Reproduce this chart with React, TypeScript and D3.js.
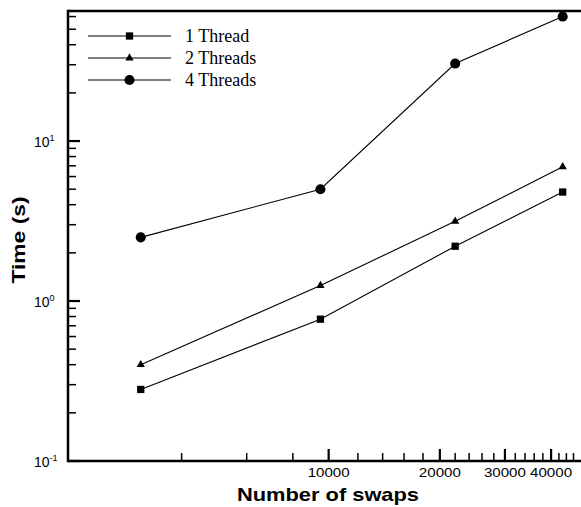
import React from 'react';
import * as d3 from 'd3';

// x values (number of swaps) shared by all series
const swaps = [3100, 9500, 22000, 43000];
const oneThread = [0.28, 0.77, 2.2, 4.8];
const twoThreads = [0.4, 1.25, 3.15, 6.9];
const fourThreads = [2.5, 5.0, 30.5, 60];

const seriesNames = ['1 Thread', '2 Threads', '4 Threads'];

const xMajorTicks = [10000, 20000, 30000, 40000];
const xMinorTicks = [4000, 6000, 8000, 12000, 14000, 16000, 18000, 22000, 24000, 26000, 28000,
    32000, 34000, 36000, 38000, 42000, 44000, 46000];
const yMajorTicks = [0.1, 1, 10];
const yMajorExp = ['-1', '0', '1'];
const yMinorTicks = [0.2, 0.3, 0.4, 0.5, 0.6, 0.7, 0.8, 0.9, 2, 3, 4, 5, 6, 7, 8, 9, 20, 30, 40, 50, 60];

const width = 581;
const height = 507;
const left = 68;
const top = 11;
const bottom = 461;
const right = 581;

export default function App() {
    const x = d3.scaleLog().domain([1970, 48200]).range([left, right]);
    const y = d3.scaleLog().domain([0.1, 65]).range([bottom, top]);

    const line = d3.line<[number, number]>()
        .x(d => x(d[0]))
        .y(d => y(d[1]));

    const series = [oneThread, twoThreads, fourThreads];
    const symbols = [
        d3.symbol().type(d3.symbolSquare).size(53)(),
        d3.symbol().type(d3.symbolTriangle).size(30)(),
        d3.symbol().type(d3.symbolCircle).size(80)(),
    ];

    const legendY = [36, 58, 80];

    return (
        <svg width={width} height={height} style={{position: 'absolute', left: 0, top: 0}}>
            {/* data */}
            {series.map((vals, i) => {
                const pts = swaps.map((s, j) => [s, vals[j]] as [number, number]);
                return (
                    <g key={i}>
                        <path d={line(pts) || ''} fill="none" stroke="#000" strokeWidth={1.1} />
                        {pts.map((p, j) => (
                            <path key={j} d={symbols[i] || ''} transform={`translate(${x(p[0])},${y(p[1])})`} fill="#000" />
                        ))}
                    </g>
                );
            })}

            {/* legend */}
            {seriesNames.map((name, i) => (
                <g key={name}>
                    <line x1={88} x2={171} y1={legendY[i]} y2={legendY[i]} stroke="#000" strokeWidth={1} />
                    <path d={symbols[i] || ''} transform={`translate(129.5,${legendY[i]})`} fill="#000" />
                    <text x={185} y={legendY[i] + 5.7} fontFamily="Liberation Serif" fontSize={18}>{name}</text>
                </g>
            ))}

            {/* axes */}
            <line x1={left} x2={left} y1={top - 1.2} y2={bottom + 1.2} stroke="#000" strokeWidth={2.5} />
            <line x1={left} x2={right} y1={bottom} y2={bottom} stroke="#000" strokeWidth={2.5} />
            <line x1={left} x2={right} y1={top} y2={top} stroke="#000" strokeWidth={2.5} />

            {xMinorTicks.map(t => (
                <line key={t} x1={x(t)} x2={x(t)} y1={bottom} y2={bottom - 8} stroke="#000" strokeWidth={1.5} />
            ))}
            {xMajorTicks.map(t => (
                <g key={t}>
                    <line x1={x(t)} x2={x(t)} y1={bottom} y2={bottom - 12} stroke="#000" strokeWidth={2.2} />
                    <text x={x(t)} y={477} textAnchor="middle" fontFamily="Liberation Sans" fontSize={13}
                        textLength={42} lengthAdjust="spacingAndGlyphs">{d3.format('d')(t)}</text>
                </g>
            ))}

            {yMinorTicks.map(t => (
                <line key={t} x1={left} x2={left + 8} y1={y(t)} y2={y(t)} stroke="#000" strokeWidth={1.5} />
            ))}
            {yMajorTicks.map((t, i) => (
                <g key={t}>
                    <line x1={left} x2={left + 12} y1={y(t)} y2={y(t)} stroke="#000" strokeWidth={2.2} />
                    <text x={34} y={y(t) + 6} fontFamily="Liberation Sans" fontSize={14}>
                        10<tspan dy={-6} fontSize={9}>{yMajorExp[i]}</tspan>
                    </text>
                </g>
            ))}

            {/* axis titles */}
            <text x={237} y={501} fontFamily="Liberation Sans" fontWeight="bold" fontSize={19}
                textLength={182} lengthAdjust="spacingAndGlyphs">Number of swaps</text>
            <text transform="translate(25,240) rotate(-90)" textAnchor="middle" fontFamily="Liberation Sans"
                fontWeight="bold" fontSize={18} textLength={87} lengthAdjust="spacingAndGlyphs">Time (s)</text>
        </svg>
    );
}
